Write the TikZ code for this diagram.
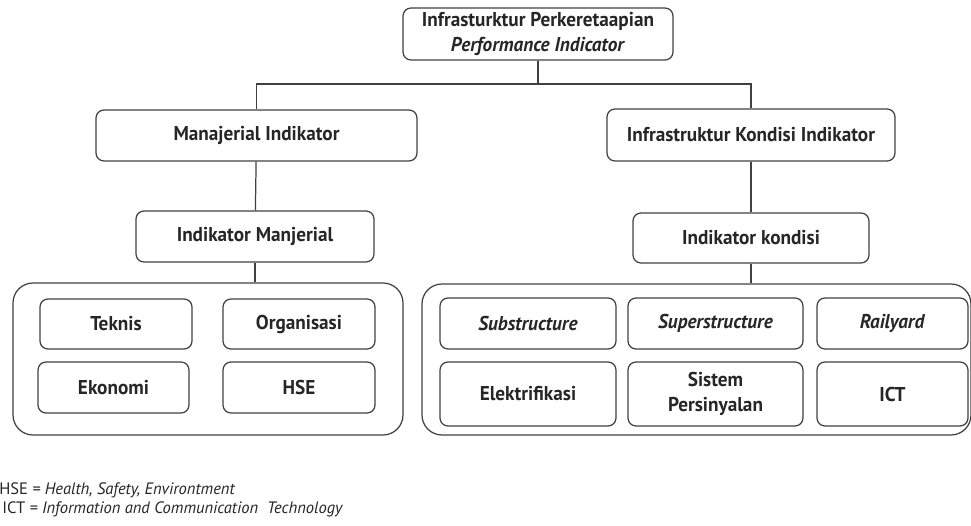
\documentclass[tikz,border=0pt]{standalone}
\usepackage{fontspec}
\setmainfont{PT Sans}[FakeStretch=0.96]
\newfontfamily\lgdfont{PT Sans}
\tikzset{box/.style 2 args={draw=black!75,line width=0.7pt,rounded corners=0.16cm,align=center,inner sep=0pt,
  text=black!85,font=\fontsize{11.4}{14.2}\selectfont\bfseries,minimum width=#1*0.02cm,minimum height=#2*0.02cm},
grp/.style 2 args={draw=black!75,line width=0.7pt,rounded corners=0.4cm,inner sep=0pt,
  minimum width=#1*0.02cm,minimum height=#2*0.02cm},
lgd/.style={anchor=west,inner sep=0pt,text=black!85,font=\lgdfont\fontsize{9.4}{10}\selectfont},
link/.style={draw=black!75,line width=0.7pt}}
\begin{document}
\begin{tikzpicture}[x=0.02cm,y=-0.02cm]
\useasboundingbox (0,0) rectangle (971,526);
\node[box={270}{52}] (top) at (538,34) {Infrasturktur Perkeretaapian\\\textit{Performance Indicator}};
\node[box={321}{51}] (manaj) at (256.5,135.5) {Manajerial Indikator};
\node[box={288}{52}] (infra) at (751,135) {Infrastruktur Kondisi Indikator};
\node[box={238}{51}] (indmanaj) at (255,236.5) {Indikator Manjerial};
\node[box={236}{50}] (indkond) at (751,238) {Indikator kondisi};
\node[grp={390}{152}] (lgrp) at (208,359) {};
\node[grp={549}{151}] (rgrp) at (696.5,359.5) {};
\node[box={152}{50}] (teknis) at (116,324) {Teknis};
\node[box={152}{50}] (organisasi) at (299,324) {Organisasi};
\node[box={151}{51}] (ekonomi) at (113.5,387.5) {Ekonomi};
\node[box={152}{51}] (hse) at (299,387.5) {HSE};
\node[box={176}{51}] (substr) at (528,323.5) {\textit{Substructure}};
\node[box={175}{51}] (superstr) at (715.5,323.5) {\textit{Superstructure}};
\node[box={151}{51}] (railyard) at (892.5,323.5) {\textit{Railyard}};
\node[box={176}{64}] (elektr) at (528,394) {Elektrifikasi};
\node[box={175}{64}] (sinyal) at (715.5,394) {Sistem\\Persinyalan};
\node[box={151}{64}] (ict) at (892.5,394) {ICT};
\coordinate (split) at (538,84);
\draw[link] (top.south) -- (split);
\draw[link] (manaj.north) |- (split) -| (infra.north);
\draw[link] (manaj) -- (indmanaj);
\draw[link] (infra) -- (indkond);
\draw[link] (indmanaj.south) -- (indmanaj.south|-lgrp.north);
\draw[link] (indkond.south) -- (indkond.south|-rgrp.north);
\node[lgd] (lgdhse) at (-1,490) {HSE \textit{= Health, Safety, Environtment}};
\node[lgd] (lgdict) at (2,509) {ICT \textit{= Information and Communication\ \ Technology}};
\end{tikzpicture}
\end{document}
